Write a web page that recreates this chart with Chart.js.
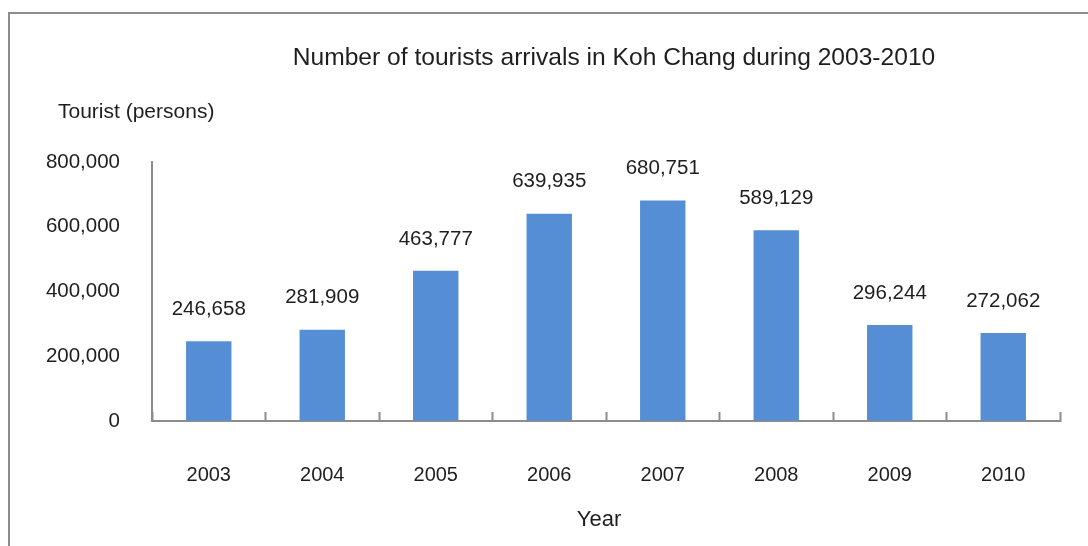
<!DOCTYPE html>
<html>
<head>
<meta charset="utf-8">
<script src="https://cdn.jsdelivr.net/npm/chart.js@4"></script>
<style>
    html, body { margin: 0; padding: 0; background: #fff; overflow: hidden; }
    #wrap { position: relative; width: 1088px; height: 546px; }
    #frame {
        position: absolute; left: 8px; top: 12px; width: 1200px; height: 700px;
        border: 2px solid #8c8c8c; box-sizing: border-box; pointer-events: none;
    }
    canvas { position: absolute; left: 0; top: 0; }
</style>
</head>
<body>
<div id="wrap">
    <canvas id="chart" width="1088" height="546"></canvas>
    <div id="frame"></div>
</div>
<script>
const years = ["2003", "2004", "2005", "2006", "2007", "2008", "2009", "2010"];
const tourists = [246658, 281909, 463777, 639935, 680751, 589129, 296244, 272062];
const yTicks = [0, 200000, 400000, 600000, 800000];

const FONT = "'Liberation Sans', Arial, sans-serif";
const TEXT = "#1e1e1e";
const AXIS = "#8c8c8c";

// value labels above each bar
const barValues = {
    id: "barValues",
    afterDatasetsDraw(chart) {
        const ctx = chart.ctx;
        const meta = chart.getDatasetMeta(0);
        ctx.save();
        ctx.font = "20.5px " + FONT;
        ctx.fillStyle = TEXT;
        ctx.textAlign = "center";
        ctx.textBaseline = "middle";
        meta.data.forEach((bar, i) => {
            ctx.fillText(tourists[i].toLocaleString("en-US"), bar.x, bar.y - 32);
        });
        ctx.restore();
    }
};

// chart heading, axis captions
const headings = {
    id: "headings",
    afterDraw(chart) {
        const ctx = chart.ctx;
        const area = chart.chartArea;
        ctx.save();
        ctx.fillStyle = TEXT;
        ctx.textBaseline = "middle";
        ctx.textAlign = "center";
        ctx.font = "24.6px " + FONT;
        ctx.fillText("Number of tourists arrivals in Koh Chang during 2003-2010",
            (area.left + area.right) / 2 + 8, area.top - 104);
        ctx.font = "22px " + FONT;
        ctx.fillText("Year", (area.left + area.right) / 2 - 7, chart.height - 26);
        ctx.textAlign = "left";
        ctx.font = "21px " + FONT;
        ctx.fillText("Tourist (persons)", area.left - 94, area.top - 50);
        ctx.restore();
    }
};

new Chart(document.getElementById("chart"), {
    type: "bar",
    data: {
        labels: years,
        datasets: [{
            data: tourists,
            backgroundColor: "#558ed5",
            categoryPercentage: 0.8,
            barPercentage: 0.5
        }]
    },
    options: {
        responsive: false,
        animation: false,
        layout: { padding: { left: 0, right: 28, top: 162, bottom: 0 } },
        plugins: {
            legend: { display: false },
            tooltip: { enabled: false },
            title: { display: false }
        },
        scales: {
            x: {
                grid: {
                    display: true,
                    offset: true,
                    drawOnChartArea: false,
                    drawTicks: true,
                    tickLength: -9,
                    tickColor: AXIS,
                    tickWidth: 2,
                    color: AXIS
                },
                border: { display: true, color: AXIS, width: 2 },
                ticks: {
                    color: TEXT,
                    font: { family: FONT, size: 20 },
                    padding: 51,
                    maxRotation: 0
                },
                afterFit(scale) { scale.height = 125; }
            },
            y: {
                min: 0,
                max: 800000,
                afterBuildTicks(scale) { scale.ticks = yTicks.map(v => ({ value: v })); },
                grid: { display: true, drawOnChartArea: false, drawTicks: false },
                border: { display: true, color: AXIS, width: 2 },
                ticks: {
                    color: TEXT,
                    font: { family: FONT, size: 20.5 },
                    padding: 32,
                    callback: v => v.toLocaleString("en-US")
                },
                afterFit(scale) { scale.width = 152; }
            }
        }
    },
    plugins: [barValues, headings]
});
</script>
</body>
</html>
